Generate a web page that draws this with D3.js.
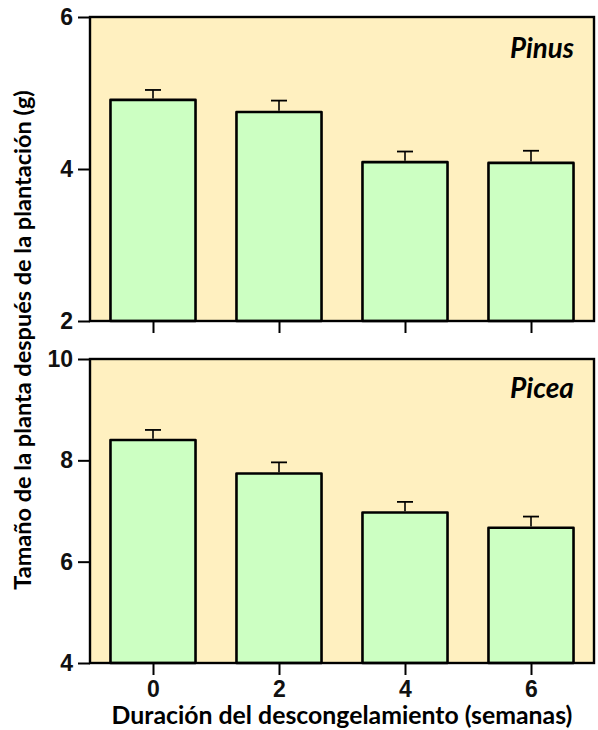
<!DOCTYPE html>
<html><head><meta charset="utf-8">
<script src="https://cdn.jsdelivr.net/npm/d3@7"></script>
<style>body{margin:0;background:#fff}</style>
</head><body>
<svg id="c" width="598" height="730"></svg>
<script>
const weeks = [0, 2, 4, 6];
const pinusValues = [4.91, 4.75, 4.09, 4.08];
const pinusErrors = [0.13, 0.15, 0.14, 0.16];
const piceaValues = [8.40, 7.74, 6.97, 6.67];
const piceaErrors = [0.20, 0.22, 0.21, 0.22];
const pinusTicks = [2, 4, 6];
const piceaTicks = [4, 6, 8, 10];
const panelNames = ["Pinus", "Picea"];
const xTitle = "Duración del descongelamiento (semanas)";
const yTitle = "Tamaño de la planta después de la plantación (g)";

const svg = d3.select("#c");
const L = 90, R = 594;
const x = d3.scaleLinear().domain([-1, 7]).range([L, R]);
const barW = x(1.35) - x(0);

const panels = [
  {name: panelNames[0], vals: pinusValues, errs: pinusErrors, ticks: pinusTicks, dom: [2, 6], top: 17, bottom: 321, labels: false, nameY: 58},
  {name: panelNames[1], vals: piceaValues, errs: piceaErrors, ticks: piceaTicks, dom: [4, 10], top: 359, bottom: 663, labels: true, nameY: 398}
];

function fit(sel, target) {
  const n = sel.node();
  const fs = parseFloat(sel.attr("font-size"));
  const w = n.getComputedTextLength();
  sel.attr("font-size", fs * target / w);
}

panels.forEach(p => {
  const y = d3.scaleLinear().domain(p.dom).range([p.bottom, p.top]);
  const g = svg.append("g");
  g.append("rect").attr("x", L).attr("y", p.top).attr("width", R - L).attr("height", p.bottom - p.top)
    .attr("fill", "#FFF0C0");
  g.selectAll("rect.bar").data(p.vals).join("rect").attr("class", "bar")
    .attr("x", (d, i) => x(weeks[i]) - barW / 2)
    .attr("y", d => y(d))
    .attr("width", barW)
    .attr("height", d => y(p.dom[0]) - y(d))
    .attr("fill", "#CCFFC2").attr("stroke", "#000").attr("stroke-width", 2.6)
    .attr("stroke-linejoin", "round");
  p.vals.forEach((v, i) => {
    const cx = x(weeks[i]);
    g.append("line").attr("x1", cx).attr("x2", cx).attr("y1", y(v) - 1.3).attr("y2", y(v + p.errs[i]))
      .attr("stroke", "#000").attr("stroke-width", 1.6);
    g.append("line").attr("x1", cx - 8).attr("x2", cx + 8).attr("y1", y(v + p.errs[i])).attr("y2", y(v + p.errs[i]))
      .attr("stroke", "#000").attr("stroke-width", 1.8);
  });
  g.append("rect").attr("x", L).attr("y", p.top).attr("width", R - L).attr("height", p.bottom - p.top)
    .attr("fill", "none").attr("stroke", "#000").attr("stroke-width", 2.4);
  const ya = g.append("g").attr("transform", `translate(${L},0)`)
    .call(d3.axisLeft(y).tickValues(p.ticks).tickSize(12).tickPadding(5).tickFormat(d3.format("d")));
  ya.select(".domain").remove();
  ya.selectAll(".tick line").attr("stroke-width", 2);
  ya.selectAll(".tick text").attr("font-family", "Liberation Sans, Arial, sans-serif").attr("font-size", 23)
    .attr("font-weight", "bold").attr("fill", "#111");
  const xa = g.append("g").attr("transform", `translate(0,${p.bottom})`)
    .call(d3.axisBottom(x).tickValues(weeks).tickSize(12).tickPadding(6).tickFormat(p.labels ? d3.format("d") : ""));
  xa.select(".domain").remove();
  xa.selectAll(".tick line").attr("stroke-width", 2);
  xa.selectAll(".tick text").attr("font-family", "Liberation Sans, Arial, sans-serif").attr("font-size", 23)
    .attr("font-weight", "bold").attr("fill", "#111");
  const t = g.append("text").attr("x", 574).attr("y", p.nameY).attr("text-anchor", "end")
    .attr("font-family", "Lato, sans-serif").attr("font-weight", "bold").attr("font-style", "italic")
    .attr("font-size", 22).text(p.name);
  fit(t, 64);
});

const xt = svg.append("text").attr("x", 342).attr("y", 724).attr("text-anchor", "middle")
  .attr("font-family", "Lato, sans-serif").attr("font-weight", "bold").attr("font-size", 20).text(xTitle);
fit(xt, 461);
const yt = svg.append("text").attr("transform", "translate(31,340) rotate(-90)").attr("text-anchor", "middle")
  .attr("font-family", "Lato, sans-serif").attr("font-weight", "bold").attr("font-size", 20).text(yTitle);
fit(yt, 500);
</script>
</body></html>
